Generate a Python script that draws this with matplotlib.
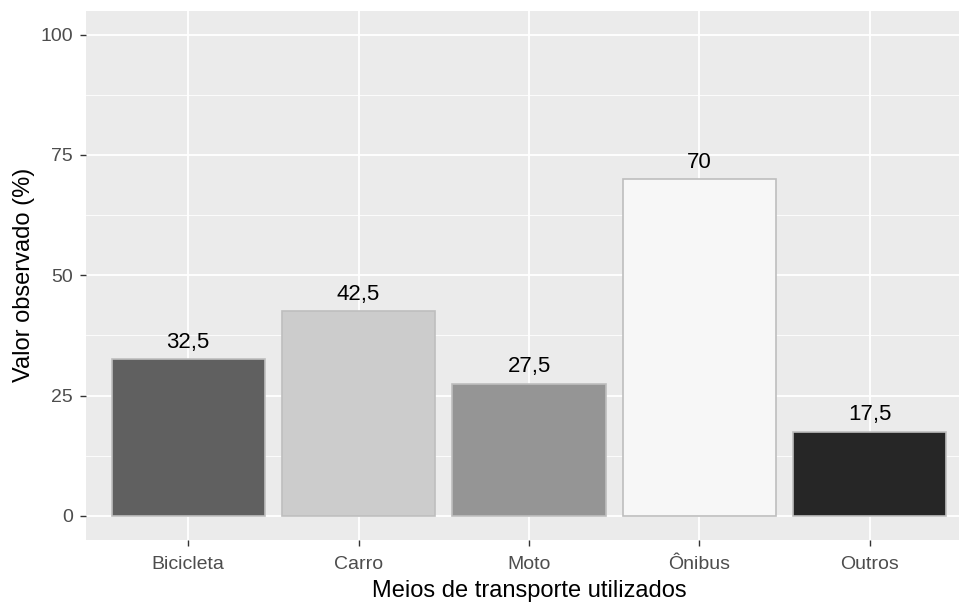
import matplotlib.pyplot as plt

# data
categories = ["Bicicleta", "Carro", "Moto", "Ônibus", "Outros"]
values = [32.5, 42.5, 27.5, 70, 17.5]
value_labels = ["32,5", "42,5", "27,5", "70", "17,5"]
bar_colors = ["#606060", "#CCCCCC", "#959595", "#F7F7F7", "#262626"]
y_ticks = [0, 25, 50, 75, 100]

plt.rcParams["font.family"] = ["Liberation Sans", "DejaVu Sans"]

fig = plt.figure(figsize=(9.59, 6.05), dpi=100)
W, H = 959, 605
left, right, top, bottom = 86, 972, 10.5, 540
ax = fig.add_axes([left / W, 1 - bottom / H, (right - left) / W, (bottom - top) / H])
ax.set_facecolor("#EBEBEB")

x = list(range(1, len(categories) + 1))
ax.bar(x, values, width=0.9, color=bar_colors, edgecolor="#BEBEBE", linewidth=1.2, zorder=3)

for xi, v, lab in zip(x, values, value_labels):
    ax.annotate(lab, (xi, v), xytext=(0, 4.5), textcoords="offset points",
                ha="center", va="bottom", fontsize=16, color="black", zorder=4)

ax.set_xlim(0.4, 5.6)
ax.set_ylim(-5, 105)
ax.set_xticks(x)
ax.set_xticklabels(categories)
ax.set_yticks(y_ticks)
ax.set_yticks([12.5, 37.5, 62.5, 87.5], minor=True)

ax.grid(True, which="major", color="white", linewidth=1.3, zorder=0)
ax.grid(True, which="minor", axis="y", color="white", linewidth=0.6, zorder=0)
ax.tick_params(axis="both", which="major", length=4, width=1, color="#333333",
               labelcolor="#4D4D4D", labelsize=14)
ax.tick_params(axis="x", which="major", pad=7.5)
ax.tick_params(axis="y", which="major", pad=5.5)
ax.tick_params(axis="y", which="minor", length=0)
for s in ax.spines.values():
    s.set_visible(False)

ax.set_xlabel("Meios de transporte utilizados", fontsize=17, color="black", labelpad=5)
ax.set_ylabel("Valor observado (%)", fontsize=17, color="black", labelpad=3.5)

fig.savefig("out.png", dpi=100)
